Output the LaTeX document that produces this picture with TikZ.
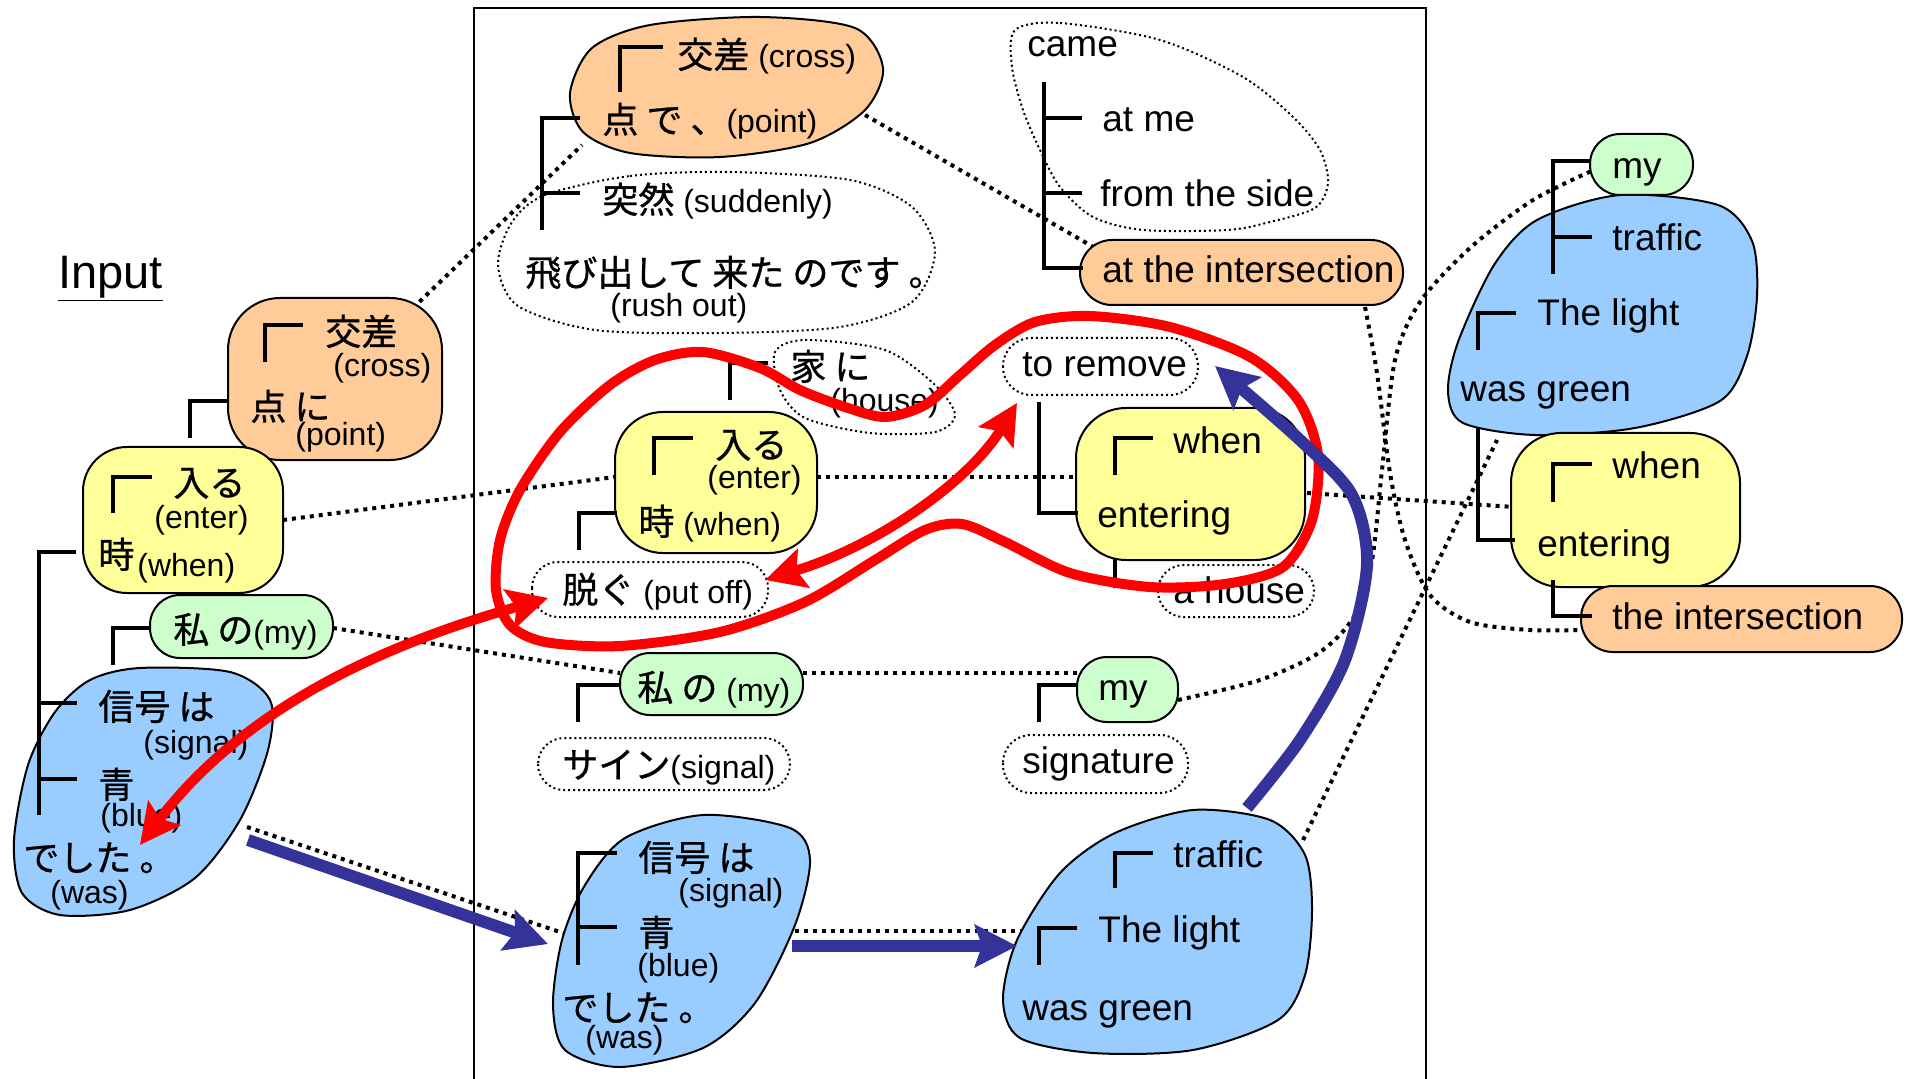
\documentclass[tikz,border=0pt]{standalone}
\usepackage{fontspec}
\setmainfont{Liberation Sans}
\newfontfamily\jpf[RawFeature={embolden=0.8}]{Noto Sans CJK JP}
\usetikzlibrary{arrows.meta}
\definecolor{bOr}{HTML}{FFCC99}
\definecolor{bYe}{HTML}{FFFF99}
\definecolor{bGr}{HTML}{CCFFCC}
\definecolor{bBl}{HTML}{99CCFF}
\definecolor{aBl}{HTML}{333399}
\definecolor{aRd}{HTML}{FF0000}
\newcommand\JP[1]{{\jpf\fontsize{18pt}{21pt}\selectfont #1}}
\begin{document}
\begin{tikzpicture}[x=0.5pt,y=-0.5pt,
  en/.style={font=\fontsize{18.5pt}{22pt}\selectfont, anchor=west, inner sep=0pt, text height=14pt, text depth=4pt},
  pe/.style={font=\fontsize{16pt}{19pt}\selectfont, anchor=west, inner sep=0pt, text height=12pt, text depth=3.5pt},
  jn/.style={font=\fontsize{16pt}{19pt}\selectfont, anchor=west, inner sep=0pt, text height=15pt, text depth=2pt},
  blob/.style={draw=black, line width=1pt},
  dblob/.style={draw=black, line width=1pt, dash pattern=on 1pt off 1.5pt},
  tl/.style={draw=black, line width=1.6pt},
  dcon/.style={draw=black, line width=2pt, dash pattern=on 2pt off 2.5pt},
  redarr/.style={draw=aRd, line width=5pt, >={Stealth[length=20pt,width=20pt,inset=3.5pt]}},
  bluearr/.style={draw=aBl, line width=6pt, >={Stealth[length=21pt,width=21pt,inset=3.5pt]}}]
\useasboundingbox (0,0) rectangle (1914,1079);
\fill[white] (0,0) rectangle (1914,1079);

% frame
\draw[line width=1pt] (474,1085) -- (474,8) -- (1426,8) -- (1426,1085);

% title
\node[font=\fontsize{23.5pt}{28pt}\selectfont, anchor=west, inner sep=0pt] (title) at (58,279) {\underline{Input}};

% connector end points
\coordinate (L1ne) at (413,308);
\coordinate (C1sw) at (582,145);
\coordinate (C1e) at (865,115);
\coordinate (C4nw) at (1095,248);
\coordinate (L2e) at (283,520);
\coordinate (C5w) at (615,477);
\coordinate (C5e) at (817,477);
\coordinate (C6w) at (1076,477);
\coordinate (C6e) at (1307,493);
\coordinate (RYw) at (1514,507);
\coordinate (L3e) at (333,628);
\coordinate (M1w) at (620,673);
\coordinate (M1e) at (803,673);
\coordinate (M2w) at (1077,673);
\coordinate (M2e) at (1178,700);
\coordinate (RMw) at (1596,169);
\coordinate (L4e) at (247,827);
\coordinate (C7w) at (563,933);
\coordinate (C7e) at (795,931);
\coordinate (C8w) at (1023,931);
\coordinate (C8ne) at (1303,840);
\coordinate (RBs) at (1497,440);
\coordinate (C4se) at (1365,307);
\coordinate (ROw) at (1584,630);

% dotted connectors
\draw[dcon] (L1ne) -- (C1sw);
\draw[dcon] (C1e) -- (C4nw);
\draw[dcon] (L2e) -- (C5w);
\draw[dcon] (C5e) -- (C6w);
\draw[dcon] (C6e) -- (RYw);
\draw[dcon] (L3e) -- (M1w);
\draw[dcon] (M1e) -- (M2w);
\draw[dcon] plot[smooth] coordinates {(M2e) (1260,680) (1320,652) (1355,615) (1372,560) (1382,470) (1395,360) (1420,302) (1470,248) (1533,200) (RMw)};
\draw[dcon] (L4e) -- (C7w);
\draw[dcon] (C7e) -- (C8w);
\draw[dcon] (C8ne) -- (RBs);
\draw[dcon] plot[smooth] coordinates {(C4se) (1377,373) (1390,473) (1405,540) (1430,595) (1470,622) (1530,630) (ROw)};

% ---------- left (Input) tree ----------
\draw[blob, fill=bOr, rounded corners=26pt] (228,298) rectangle (442,460);
\draw[blob, fill=bYe, rounded corners=22pt] (83,447) rectangle (283,593);
\draw[blob, fill=bGr, rounded corners=15pt] (150,595) rectangle (333,658);
\draw[blob, fill=bBl] plot[smooth cycle] coordinates {(140,668) (230,672) (270,700) (268,750) (240,820) (195,878) (130,910) (60,915) (22,893) (14,840) (28,765) (55,712) (90,680)};

% ---------- center ----------
\draw[blob, fill=bOr] plot[smooth cycle] coordinates {(650,25) (760,17) (855,28) (883,68) (865,110) (810,143) (720,157) (630,153) (583,132) (570,93) (592,48)};
\draw[dblob] plot[smooth cycle] coordinates {(545,195) (630,176) (730,172) (850,180) (912,207) (935,252) (912,302) (840,327) (720,333) (595,330) (518,306) (498,265) (512,222)};
\draw[dblob] plot[smooth cycle] coordinates {(1015,30) (1060,23) (1160,40) (1243,77) (1293,117) (1320,150) (1328,183) (1315,208) (1270,222) (1227,230) (1143,230) (1093,217) (1060,187) (1040,150) (1023,110) (1012,67)};
\draw[blob, fill=bOr, rounded corners=16pt] (1080,240) rectangle (1403,305);
\draw[dblob] plot[smooth cycle] coordinates {(775,352) (805,340) (885,350) (935,385) (955,415) (935,432) (870,433) (805,418) (780,390)};
\draw[blob, fill=bYe, rounded corners=24pt] (615,412) rectangle (817,553);
\draw[dblob, rounded corners=13pt] (532,562) rectangle (768,617);
\draw[dblob, rounded corners=14pt] (1003,338) rectangle (1198,395);
\draw[blob, fill=bYe, rounded corners=25pt] (1076,408) rectangle (1305,560);
\draw[dblob, rounded corners=13pt] (1158,565) rectangle (1314,617);
\draw[blob, fill=bGr, rounded corners=15pt] (620,653) rectangle (803,715);
\draw[dblob, rounded corners=13pt] (538,738) rectangle (790,790);
\draw[blob, fill=bBl] plot[smooth cycle] coordinates {(703,815) (790,828) (810,860) (795,925) (755,1003) (703,1048) (620,1067) (565,1050) (553,1005) (562,940) (585,885) (625,838)};
\draw[blob, fill=bGr, rounded corners=15pt] (1077,657) rectangle (1178,722);
\draw[dblob, rounded corners=14pt] (1003,735) rectangle (1188,793);
\draw[blob, fill=bBl] plot[smooth cycle] coordinates {(1193,810) (1270,820) (1305,855) (1312,910) (1305,975) (1278,1020) (1193,1050) (1093,1053) (1020,1038) (1003,1000) (1017,940) (1060,873) (1115,833)};

% ---------- right (output) ----------
\draw[blob, fill=bBl] plot[smooth cycle] coordinates {(1620,195) (1718,205) (1752,241) (1757,296) (1747,356) (1720,401) (1635,428) (1535,435) (1463,423) (1448,392) (1458,342) (1494,265) (1537,220)};
\draw[blob, fill=bGr, rounded corners=15pt] (1590,134) rectangle (1693,195);
\draw[blob, fill=bYe, rounded corners=25pt] (1511,433) rectangle (1740,587);
\draw[blob, fill=bOr, rounded corners=16pt] (1581,586) rectangle (1902,652);

% ---------- tree lines ----------
\draw[tl] (265,362) -- (265,325) -- (303,325);
\draw[tl] (190,438) -- (190,401) -- (228,401);
\draw[tl] (113,513) -- (113,477) -- (152,477);
\draw[tl] (76,552) -- (39,552) -- (39,815);
\draw[tl] (39,703) -- (77,703);
\draw[tl] (39,779) -- (77,779);
\draw[tl] (113,665) -- (113,628) -- (150,628);
\draw[tl] (620,92) -- (620,47) -- (663,47);
\draw[tl] (580,118) -- (542,118) -- (542,230);
\draw[tl] (542,193) -- (580,193);
\draw[tl] (1044,82) -- (1044,268) -- (1083,268);
\draw[tl] (1044,118) -- (1082,118);
\draw[tl] (1044,193) -- (1082,193);
\draw[tl] (730,400) -- (730,363) -- (768,363);
\draw[tl] (654,475) -- (654,438) -- (693,438);
\draw[tl] (617,513) -- (579,513) -- (579,550);
\draw[tl] (1039,402) -- (1039,513) -- (1078,513);
\draw[tl] (1115,475) -- (1115,438) -- (1153,438);
\draw[tl] (1115,558) -- (1115,588);
\draw[tl] (578,722) -- (578,685) -- (620,685);
\draw[tl] (578,965) -- (578,853) -- (617,853);
\draw[tl] (578,927) -- (617,927);
\draw[tl] (1039,722) -- (1039,685) -- (1077,685);
\draw[tl] (1115,888) -- (1115,853) -- (1153,853);
\draw[tl] (1039,965) -- (1039,928) -- (1077,928);
\draw[tl] (1590,161) -- (1553,161) -- (1553,274);
\draw[tl] (1553,237) -- (1592,237);
\draw[tl] (1478,350) -- (1478,313) -- (1516,313);
\draw[tl] (1478,428) -- (1478,540) -- (1515,540);
\draw[tl] (1553,502) -- (1553,464) -- (1592,464);
\draw[tl] (1553,580) -- (1553,616) -- (1592,616);

% ---------- texts ----------
% left
\node[jn] (l1a) at (325,332) {\JP{交差}};
\node[pe] (l1b) at (333,368) {(cross)};
\node[jn] (l1c) at (250,407) {\JP{点 に}};
\node[pe] (l1d) at (295,437) {(point)};
\node[jn] (l2a) at (173,483) {\JP{入る}};
\node[pe] (l2b) at (154,520) {(enter)};
\node[jn] (l2c) at (98,555) {\JP{時}};
\node[pe] (l2d) at (137,568) {(when)};
\node[jn] (l3a) at (173,630) {\JP{私 の}(my)};
\node[jn] (l4a) at (98,707) {\JP{信号 は}};
\node[pe] (l4b) at (143,745) {(signal)};
\node[jn] (l4c) at (98,785) {\JP{青}};
\node[pe] (l4d) at (100,818) {(blue)};
\node[jn] (l4e) at (23,858) {\JP{でした 。}};
\node[pe] (l4f) at (50,895) {(was)};
% center
\node[jn] (c1a) at (677,55) {\JP{交差} (cross)};
\node[jn] (c1b) at (602,120) {\JP{点 で 、}(point)};
\node[jn] (c2a) at (602,200) {\JP{突然} (suddenly)};
\node[jn] (c2b) at (525,273) {\JP{飛び出して 来た のです 。}};
\node[pe] (c2c) at (610,308) {(rush out)};
\node[en] (c3a) at (1027,47) {came};
\node[en] (c3b) at (1102,122) {at me};
\node[en] (c3c) at (1100,197) {from the side};
\node[en] (c4) at (1102,273) {at the intersection};
\node[jn] (h1) at (790,367) {\JP{家 に}};
\node[pe] (h2) at (830,403) {(house)};
\node[jn] (c5a) at (715,445) {\JP{入る}};
\node[pe] (c5b) at (707,480) {(enter)};
\node[jn] (c5c) at (638,522) {\JP{時} (when)};
\node[jn] (po) at (562,590) {\JP{脱ぐ} (put off)};
\node[en] (rm) at (1022,367) {to remove};
\node[en] (c6a) at (1173,443) {when};
\node[en] (c6b) at (1097,517) {entering};
\node[en] (ah) at (1173,593) {a house};
\node[jn] (m1) at (637,688) {\JP{私 の} (my)};
\node[jn] (sg) at (562,765) {\JP{サイン}(signal)};
\node[jn] (c7a) at (638,858) {\JP{信号 は}};
\node[pe] (c7b) at (678,893) {(signal)};
\node[jn] (c7c) at (638,933) {\JP{青}};
\node[pe] (c7d) at (637,968) {(blue)};
\node[jn] (c7e) at (562,1008) {\JP{でした 。}};
\node[pe] (c7f) at (585,1040) {(was)};
\node[en] (m2) at (1098,690) {my};
\node[en] (sig) at (1022,763) {signature};
\node[en] (c8a) at (1173,857) {traffic};
\node[en] (c8b) at (1098,932) {The light};
\node[en] (c8c) at (1022,1010) {was green};
% right
\node[en] (r1) at (1612,169) {my};
\node[en] (r2) at (1612,241) {traffic};
\node[en] (r3) at (1537,316) {The light};
\node[en] (r4) at (1460,392) {was green};
\node[en] (r5) at (1612,469) {when};
\node[en] (r6) at (1537,546) {entering};
\node[en] (r7) at (1612,619) {the intersection};

% ---------- red loop and arrows ----------
\coordinate (rA) at (140,845);
\coordinate (rB) at (548,598);
\coordinate (rC) at (765,580);
\coordinate (rD) at (1017,403);
\draw[redarr] plot[smooth cycle] coordinates {(703,352) (760,368) (800,390) (845,407) (885,417) (925,405) (960,375) (995,345) (1035,322) (1090,316) (1170,327) (1250,357) (1298,400) (1318,455) (1312,520) (1283,567) (1225,584) (1150,587) (1070,573) (1005,542) (962,524) (925,530) (875,560) (805,602) (720,632) (620,646) (545,642) (510,625) (496,590) (500,540) (520,490) (560,432) (610,385) (655,360)};
\draw[redarr, <->] (rA) .. controls (250,700) and (400,640) .. (rB);
\draw[redarr, <->] (rC) .. controls (880,545) and (970,480) .. (rD);

% ---------- blue arrows ----------
\coordinate (bA) at (248,840);
\coordinate (bB) at (548,944);
\coordinate (bC) at (792,946);
\coordinate (bD) at (1017,946);
\coordinate (bE) at (1247,808);
\coordinate (bF) at (1215,366);
\draw[bluearr, ->] (bA) -- (bB);
\draw[bluearr, ->] (bC) -- (bD);
\draw[bluearr, ->] plot[smooth] coordinates {(bE) (1300,740) (1345,660) (1367,565) (1352,495) (1300,440) (bF)};
\end{tikzpicture}
\end{document}
